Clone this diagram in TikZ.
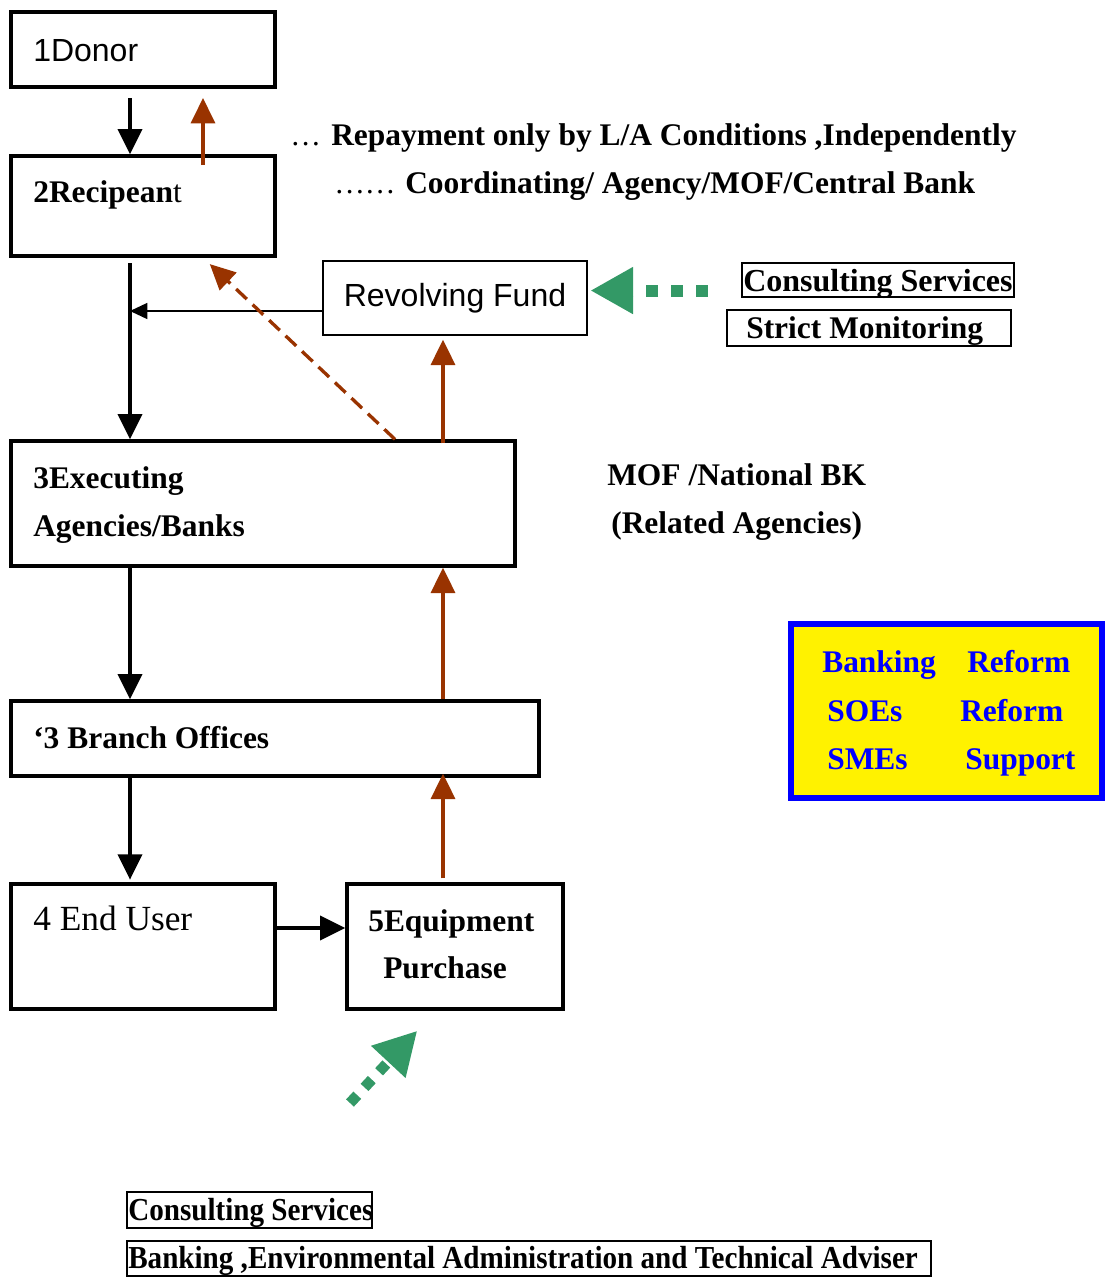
\documentclass[tikz,border=0pt]{standalone}
\usepackage{fontspec}
\setmainfont{Liberation Serif}
\setsansfont{Liberation Sans}
\newfontfamily\narrowserif[FakeStretch=0.91]{Liberation Serif}
\usetikzlibrary{arrows.meta}
\usetikzlibrary{calc}
\usetikzlibrary{positioning}
\usetikzlibrary{fit}
\definecolor{brownline}{HTML}{993300}
\definecolor{greenline}{HTML}{339966}
\definecolor{reformblue}{HTML}{0000FF}

\tikzset{
	box/.style={draw,line width=2.5pt,inner sep=0pt},
	thinbox/.style={draw,line width=1pt,inner sep=0pt},
	tagbox/.style={draw,line width=1.3pt,inner sep=0pt},
	flow/.style={line width=2.8pt,-{Triangle[width=18pt,length=19pt]}},
	thinflow/.style={line width=1.1pt,-{Triangle[width=12pt,length=13pt]}},
	back/.style={brownline,line width=2.5pt,-{Triangle[width=18pt,length=19pt]}},
	hint/.style={greenline,line width=9pt,dash pattern=on 9pt off 9.6pt,-{Triangle[width=33pt,length=32pt]}},
	txt/.style={anchor=base west,inner sep=0pt,font=\fontsize{23.6}{26}\selectfont\bfseries},
	sanstxt/.style={anchor=base west,inner sep=0pt,font=\fontsize{24}{28}\selectfont\sffamily},
	bluetxt/.style={txt,text=reformblue},
	narrowtxt/.style={txt,font=\fontsize{24}{28}\selectfont\narrowserif\bfseries}
}

\begin{document}
\begin{tikzpicture}[x=0.75pt,y=-0.75pt]
		\useasboundingbox (0,0) rectangle (1105,1279);
		\coordinate (laneA) at (130,0);
		\coordinate (laneB) at (443,0);
		\coordinate (laneC) at (203,0);
		\coordinate (laneD) at (395,0);

		\node[box,fit={(11,12)(275,87)}] (donor) {};
		\node[box,fit={(11,156)(275,256)}] (recip) {};
		\node[thinbox,fit={(323,261)(587,335)}] (fund) {};
		\node[box,fit={(11,441)(515,566)}] (exec) {};
		\node[box,fit={(11,701)(539,776)}] (branch) {};
		\node[box,fit={(11,884)(275,1009)}] (user) {};
		\node[box,fit={(347,884)(563,1009)}] (equip) {};
		\node[tagbox,fit={(742,263)(1014,297)}] (cstop) {};
		\node[tagbox,fit={(727,310)(1011,346)}] (strict) {};
		\node[draw=reformblue,fill=yellow,line width=3.8pt,inner sep=0pt,fit={(791,624)(1102,798)}] (reform) {};
		\node[tagbox,fit={(127,1192)(372,1228)}] (csbot) {};
		\node[tagbox,fit={(127,1241)(931,1276)}] (adviser) {};

		\node[sanstxt] (donortxt) at (33,61) {1Donor};
		\node[txt] (reciptxt) at (33,202) {2Recipean\mdseries t};
		\node[sanstxt,anchor=base] (fundtxt) at (455,306) {Revolving Fund};
		\node[txt] (exectxt) at (33,488) {3Executing};
		\node[txt] (exectxtb) at (33,536) {Agencies/Banks};
		\node[txt] (branchtxt) at (33,748) {‘3 Branch Offices};
		\node[txt,font=\fontsize{26.5}{30}\selectfont] (usertxt) at (33,930) {4 End User};
		\node[txt] (equiptxt) at (368,931) {5Equipment};
		\node[txt] (equiptxtb) at (383,978) {Purchase};

		\node[txt,font=\fontsize{23}{26}\selectfont] (dotsa) at (290,145) {\dots};
		\node[txt] (repay) at (331,145) {Repayment only by L/A Conditions ,Independently};
		\node[txt,font=\fontsize{23}{26}\selectfont] (dotsb) at (334,193) {\dots\dots};
		\node[txt] (coord) at (405,193) {Coordinating/ Agency/MOF/Central Bank};
		\node[txt] (mof) at (607,485) {MOF /National BK};
		\node[txt] (related) at (611,533) {(Related Agencies)};

		\node[txt,font=\fontsize{24}{28}\selectfont\bfseries] (cstoptxt) at (743,291) {Consulting Services};
		\node[txt] (stricttxt) at (746,338) {Strict Monitoring};

		\node[bluetxt] (banking) at (822,672) {Banking};
		\node[bluetxt] (reforma) at (967,672) {Reform};
		\node[bluetxt] (soes) at (827,721) {SOEs};
		\node[bluetxt] (reformb) at (960,721) {Reform};
		\node[bluetxt] (smes) at (827,769) {SMEs};
		\node[bluetxt] (support) at (965,769) {Support};

		\node[narrowtxt] (csbottxt) at (128,1220) {Consulting Services};
		\node[narrowtxt] (advisertxt) at (128,1268) {Banking ,Environmental Administration and Technical Adviser};

		\draw[flow,shorten <=7pt] (donor.south -| laneA) -- (recip.north -| laneA);
		\draw[back,shorten <=-8pt,shorten >=7pt] (recip.north -| laneC) -- (donor.south -| laneC);
		\draw[flow,shorten <=4pt] (recip.south -| laneA) -- (exec.north -| laneA);
		\draw[thinflow] (fund.west |- 0,311) -- (laneA |- 0,311);
		\draw[back,dash pattern=on 11pt off 6pt,shorten >=7pt] (exec.north -| laneD) -- (recip.south -| laneC);
		\draw[back,shorten <=-3pt,shorten >=3pt] (exec.north -| laneB) -- (fund.south -| laneB);
		\draw[hint,shorten <=25pt,shorten >=2pt] ([yshift=5.6pt]fund.east -| cstop.west) -- ([yshift=5.6pt]fund.east);
		\draw[flow] (exec.south -| laneA) -- (branch.north -| laneA);
		\draw[back] (branch.north -| laneB) -- (exec.south -| laneB);
		\draw[flow,shorten >=2pt] (branch.south -| laneA) -- (user.north -| laneA);
		\draw[back,shorten <=3pt,shorten >=-3pt] (equip.north -| laneB) -- (branch.south -| laneB);
		\draw[flow] ([yshift=13.9pt]user.east) -- ([yshift=13.9pt]equip.west);
		\coordinate (hintstart) at (350,1103);
		\draw[hint,line width=8pt,dash pattern=on 8pt off 8pt] (hintstart) -- ($(equip.south west)+(72,20)$);
\end{tikzpicture}
\end{document}
